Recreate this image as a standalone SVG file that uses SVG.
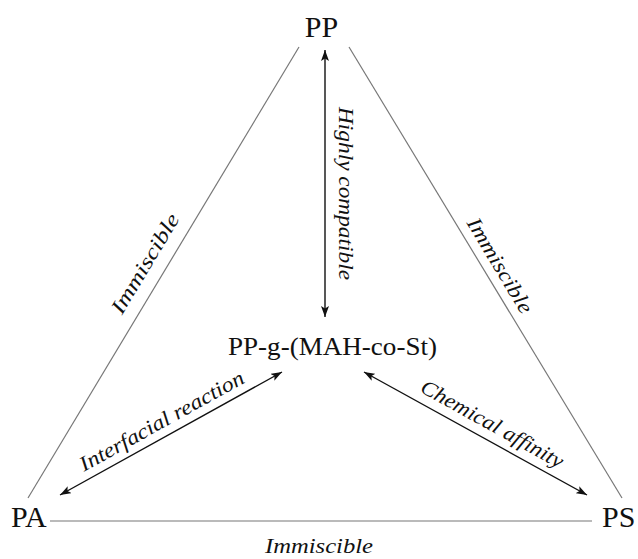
<svg xmlns="http://www.w3.org/2000/svg" width="638" height="559" viewBox="0 0 638 559">
<style>
.node{font-family:"Liberation Serif","Times New Roman",serif;fill:#111;}
.lbl{font-family:"Liberation Serif","Times New Roman",serif;font-style:italic;fill:#111;font-size:21px;}
.side{stroke:#777;stroke-width:1.2;fill:none;}
.arr{stroke:#111;stroke-width:1.4;fill:none;marker-start:url(#ah);marker-end:url(#ah);}
</style>
<defs>
<marker id="ah" viewBox="0 0 11 8" refX="11" refY="4" markerWidth="11" markerHeight="8" markerUnits="userSpaceOnUse" orient="auto-start-reverse">
<path d="M0,0 L11,4 L0,8 L2.5,4 z" fill="#111"/>
</marker>
</defs>
<rect width="638" height="559" fill="#fff"/>
<g id="connectors">
<line class="side" x1="299" y1="47" x2="28" y2="498"/>
<line class="side" x1="349" y1="47" x2="622" y2="498"/>
<line class="side" x1="50" y1="521" x2="592" y2="521" stroke-width="1.6"/>
<line class="arr" x1="325" y1="50" x2="325" y2="317"/>
<line class="arr" x1="60" y1="495" x2="282" y2="372"/>
<line class="arr" x1="364" y1="372" x2="587" y2="495"/>
<text class="lbl" font-size="18" text-anchor="middle" textLength="173" lengthAdjust="spacingAndGlyphs" transform="translate(339,193.5) rotate(90)">Highly compatible</text>
<text class="lbl" text-anchor="middle" textLength="113" lengthAdjust="spacingAndGlyphs" transform="translate(151,267) rotate(-59)">Immiscible</text>
<text class="lbl" text-anchor="middle" textLength="108" lengthAdjust="spacingAndGlyphs" transform="translate(494,269) rotate(59)">Immiscible</text>
<text class="lbl" font-size="20" text-anchor="middle" textLength="108" lengthAdjust="spacingAndGlyphs" x="319" y="553">Immiscible</text>
<text class="lbl" text-anchor="middle" textLength="185" lengthAdjust="spacingAndGlyphs" transform="translate(165,427) rotate(-29)">Interfacial reaction</text>
<text class="lbl" text-anchor="middle" textLength="160" lengthAdjust="spacingAndGlyphs" transform="translate(489,430) rotate(29)">Chemical affinity</text>
</g>
<g id="node-pp"><text class="node" font-size="30" x="321.5" y="37" text-anchor="middle">PP</text></g>
<g id="node-pa"><text class="node" font-size="30" x="11" y="527">PA</text></g>
<g id="node-ps"><text class="node" font-size="30" x="602" y="527">PS</text></g>
<g id="node-center"><text class="node" font-size="26" x="332.5" y="355" text-anchor="middle" textLength="209" lengthAdjust="spacingAndGlyphs">PP-g-(MAH-co-St)</text></g>
</svg>
